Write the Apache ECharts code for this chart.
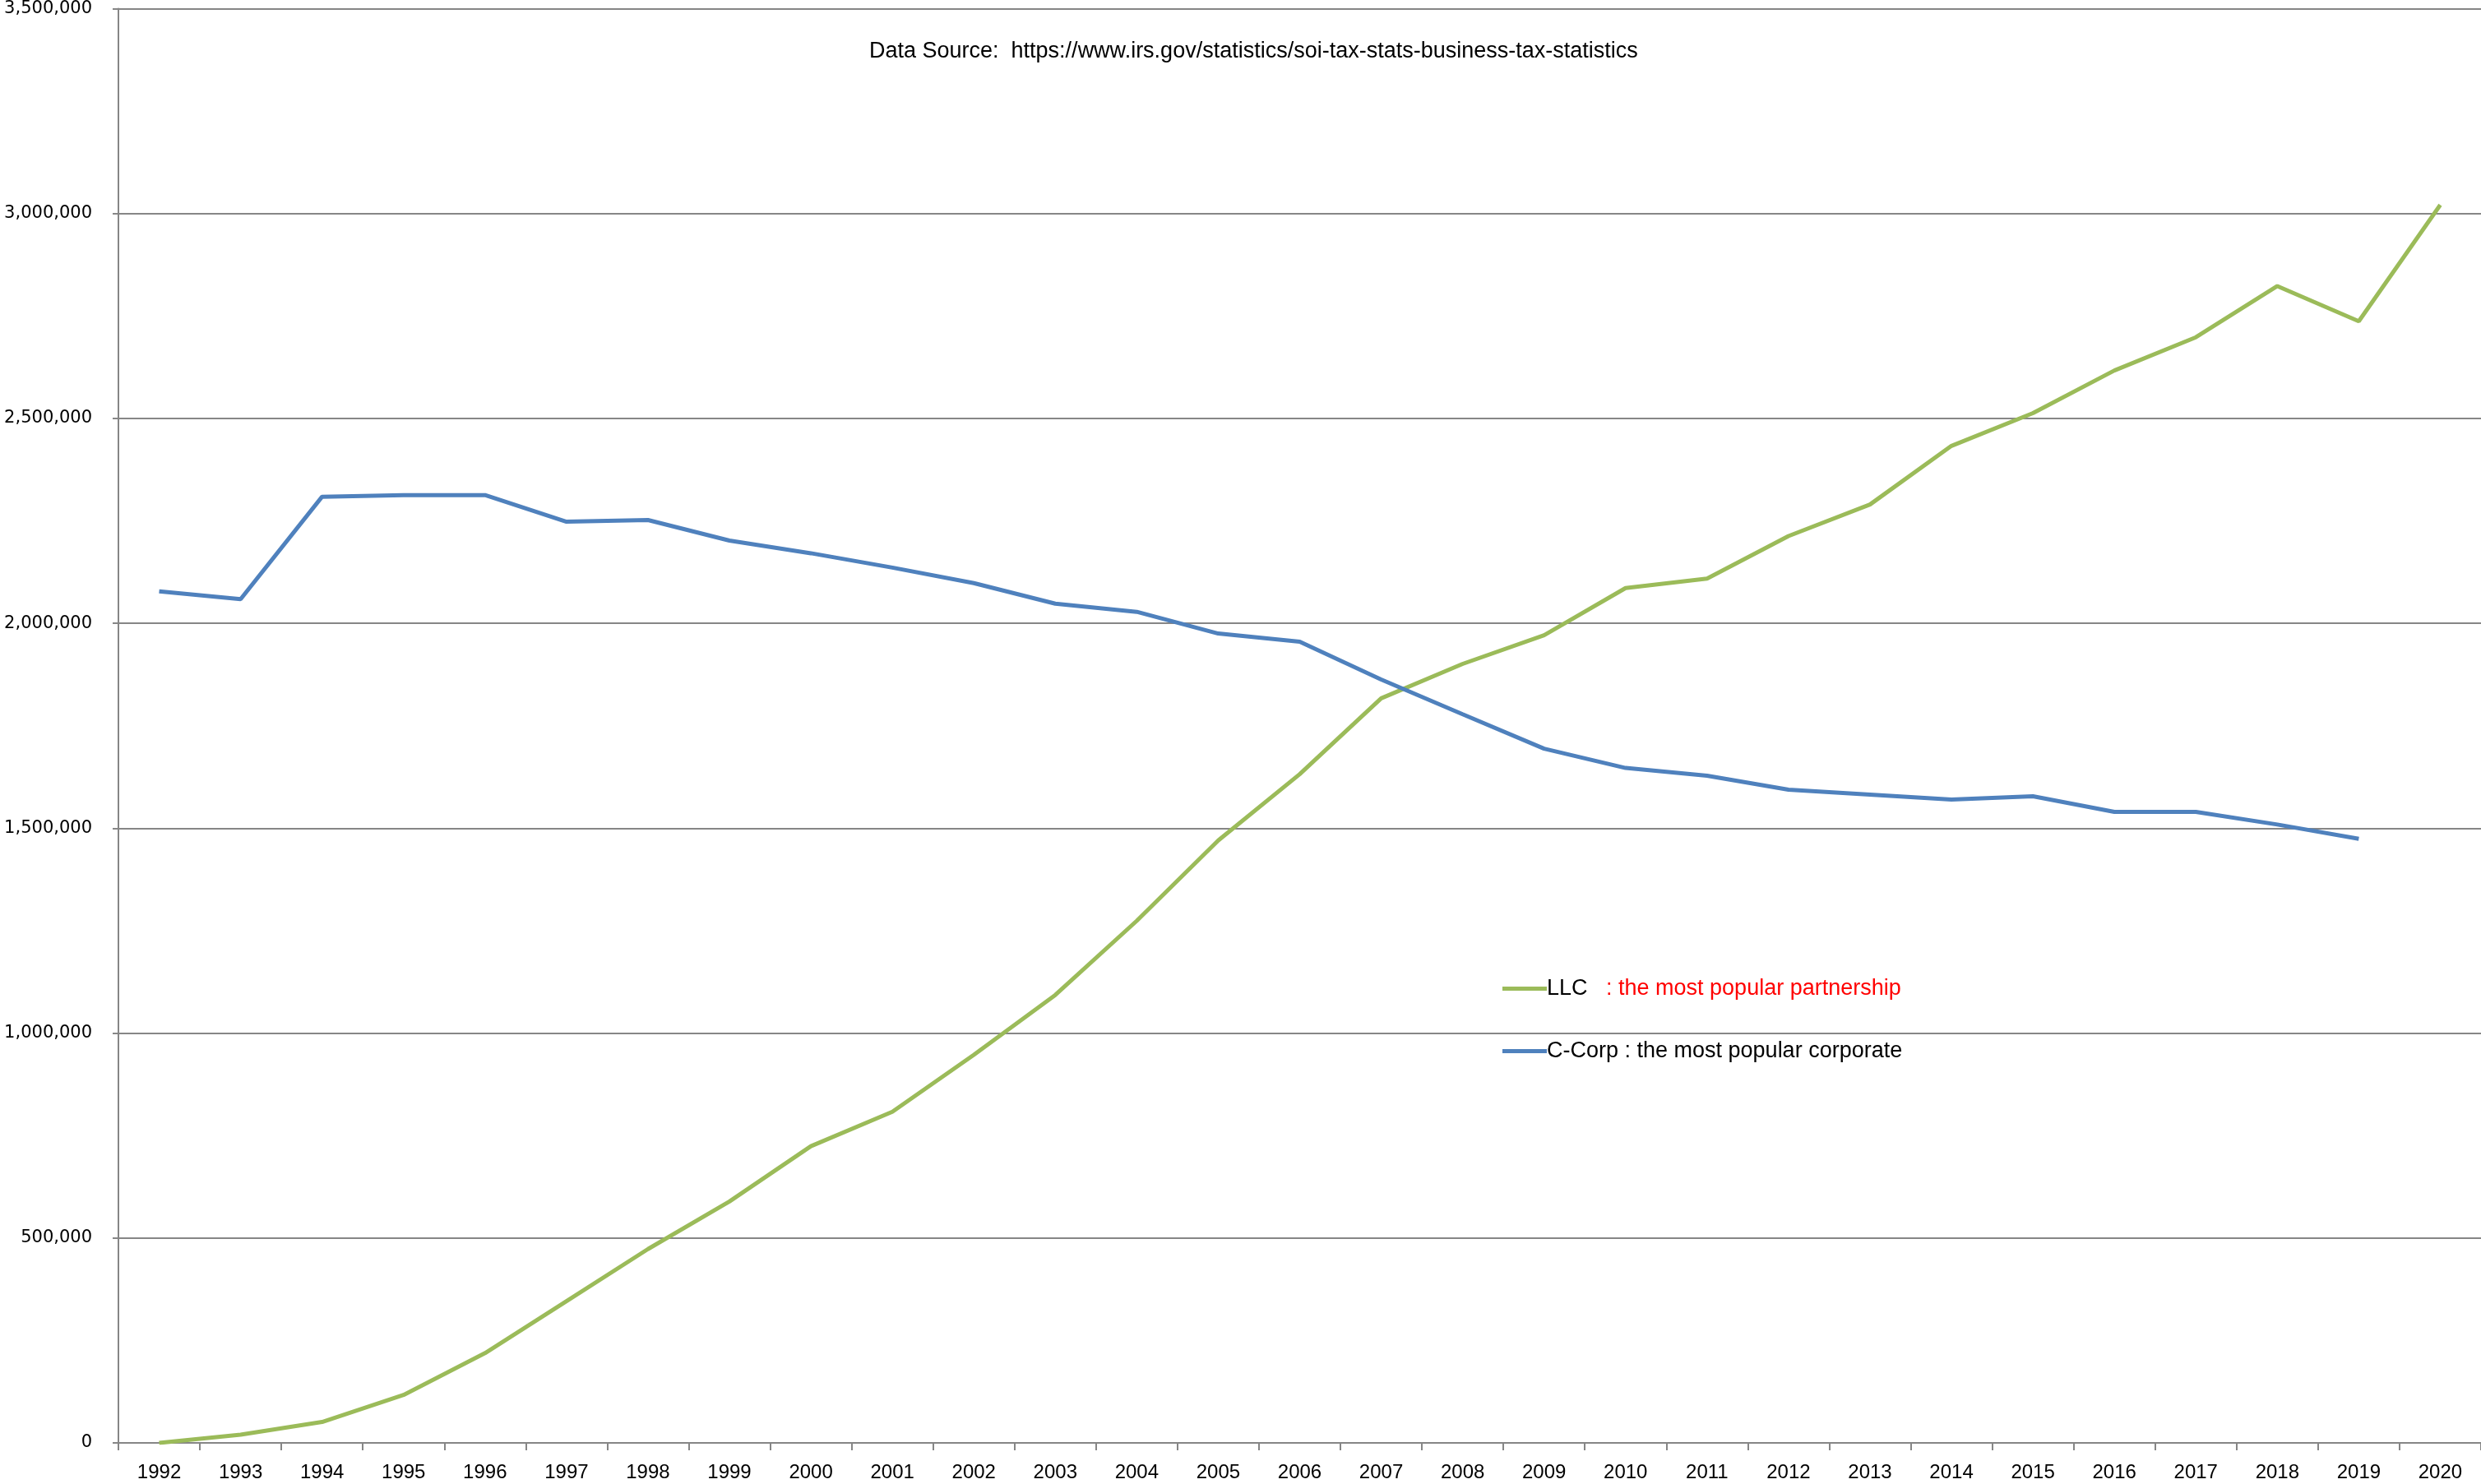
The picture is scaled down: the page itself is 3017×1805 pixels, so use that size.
<!DOCTYPE html>
<html>
<head>
<meta charset="utf-8">
<script src="https://cdn.jsdelivr.net/npm/echarts@6/dist/echarts.min.js"></script>
<style>
  html, body { margin: 0; padding: 0; background: #fff; }
  #main { width: 3017px; height: 1805px; }
</style>
</head>
<body>
<div id="main"></div>
<script>
// years on the x axis
var years = ['1992', '1993', '1994', '1995', '1996', '1997', '1998', '1999', '2000', '2001',
  '2002', '2003', '2004', '2005', '2006', '2007', '2008', '2009', '2010', '2011',
  '2012', '2013', '2014', '2015', '2016', '2017', '2018', '2019', '2020']

// LLC returns
var llc = [0, 20000, 51000, 117000, 219000, 346000, 473000, 589000, 724000, 808000,
  947000, 1093000, 1274000, 1470000, 1632000, 1817000, 1901000, 1971000, 2086000, 2109000,
  2213000, 2290000, 2433000, 2513000, 2617000, 2698000, 2823000, 2737000, 3021000]

// C-Corp returns, no 2020 value
var ccorp = [2078000, 2059000, 2309000, 2313000, 2313000, 2248000, 2252000, 2202000, 2171000, 2136000,
  2098000, 2048000, 2028000, 1975000, 1955000, 1863000, 1778000, 1694000, 1647000, 1628000,
  1594000, 1582000, 1570000, 1578000, 1540000, 1540000, 1509000, 1474000, null]

var chart = echarts.init(document.getElementById('main'))
var gray = '#868686'
var narrow = '"Liberation Sans Narrow", "Liberation Sans", sans-serif'

chart.setOption({
  animation: false,
  backgroundColor: '#fff',
  title: {
    text: 'Data Source:  https://www.irs.gov/statistics/soi-tax-stats-business-tax-statistics',
    left: 1052,
    top: 44,
    textStyle: { fontFamily: narrow, fontSize: 27, fontWeight: 'normal', color: '#000' }
  },
  grid: { left: 144, right: 0, top: 6, bottom: 50 },
  legend: {
    orient: 'vertical',
    left: 1822,
    top: 1184,
    itemGap: 49,
    icon: 'rect',
    itemWidth: 54,
    itemHeight: 5,
    textStyle: {
      fontFamily: narrow, fontSize: 27, color: '#000', padding: [0, 0, 0, -5],
      rich: { red: { color: '#FF0000', fontFamily: narrow, fontSize: 27 } }
    },
    formatter: function (name) {
      if (name === 'LLC') return 'LLC   {red|: the most popular partnership}'
      return name
    },
    data: ['LLC', 'C-Corp : the most popular corporate']
  },
  xAxis: {
    type: 'category',
    data: years,
    boundaryGap: true,
    axisLine: { lineStyle: { color: gray, width: 2 } },
    axisTick: { show: true, length: 9, lineStyle: { color: gray, width: 2 } },
    axisLabel: { color: '#000', fontFamily: '"Liberation Sans", sans-serif', fontSize: 24, margin: 24, interval: 0 }
  },
  yAxis: {
    type: 'value',
    min: 0,
    max: 3500000,
    interval: 500000,
    axisLine: { show: true, lineStyle: { color: gray, width: 2 } },
    axisTick: { show: true, length: 7, lineStyle: { color: gray, width: 2 } },
    splitLine: { lineStyle: { color: gray, width: 2 } },
    axisLabel: {
      color: '#000',
      fontFamily: '"DejaVu Sans", sans-serif',
      fontSize: 21,
      margin: 32,
      formatter: function (v) { return v.toLocaleString('en-US') }
    }
  },
  series: [
    {
      name: 'LLC',
      type: 'line',
      data: llc,
      symbol: 'none',
      color: '#9BBB59',
      lineStyle: { width: 5, color: '#9BBB59' }
    },
    {
      name: 'C-Corp : the most popular corporate',
      type: 'line',
      data: ccorp,
      symbol: 'none',
      color: '#4F81BD',
      lineStyle: { width: 5, color: '#4F81BD' }
    }
  ]
})
</script>
</body>
</html>
